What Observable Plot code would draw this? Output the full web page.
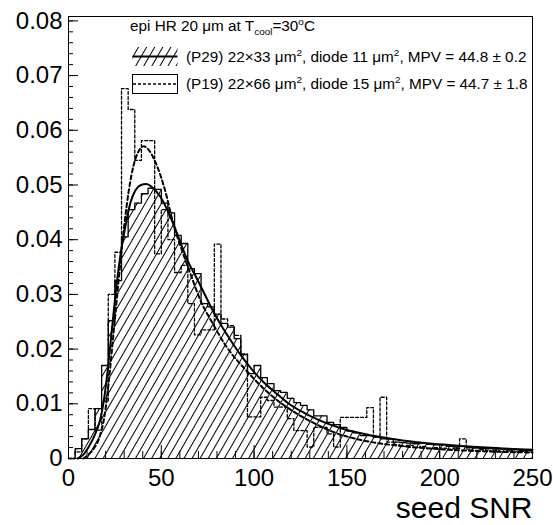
<!DOCTYPE html>
<html><head><meta charset="utf-8">
<script src="https://cdn.jsdelivr.net/npm/d3@7"></script>
<script src="https://cdn.jsdelivr.net/npm/@observablehq/plot@0.6"></script>
<style>
body{margin:0;background:#fff;}
#wrap{position:relative;width:553px;height:525px;font-family:"Liberation Sans",Arial,Helvetica,sans-serif;}
#wrap svg{display:block;}
.leg{position:absolute;font-size:15.3px;line-height:1;white-space:nowrap;color:#000;}
.leg sub,.leg sup{font-size:0.65em;line-height:0;}
</style></head><body><div id="wrap"></div>
<script>
// Histogram binning
const snrMin = 0, snrMax = 250, nBins = 70;
// (P29) 22x33 um^2 — normalised counts per bin
const p29 = [
  0, 0.0018, 0.0036, 0.0053, 0.0091, 0.0170, 0.0252, 0.0325, 0.0405, 0.0455,
  0.0467, 0.0484, 0.0494, 0.0492, 0.0467, 0.0449, 0.0408, 0.0393, 0.0347, 0.0338,
  0.0283, 0.0277, 0.0264, 0.0247, 0.0240, 0.0219, 0.0190, 0.0155, 0.0170, 0.0148,
  0.0137, 0.0124, 0.0121, 0.0110, 0.0102, 0.0097, 0.0089, 0.0078, 0.0078, 0.0066,
  0.0062, 0.0057, 0.0050, 0.0047, 0.0042, 0.0042, 0.0039, 0.0036, 0.0036, 0.0030,
  0.0029, 0.0028, 0.0027, 0.0028, 0.0026, 0.0025, 0.0025, 0.0022, 0.0021, 0.0022,
  0.0020, 0.0019, 0.0018, 0.0018, 0.0017, 0.0017, 0.0016, 0.0016, 0.0015, 0.0015
];
// (P19) 22x66 um^2
const p19 = [
  0, 0.0012, 0.0036, 0.0091, 0.0052, 0.0105, 0.0300, 0.0377, 0.0676, 0.0638,
  0.0545, 0.0581, 0.0581, 0.0374, 0.0455, 0.0400, 0.0340, 0.0353, 0.0283, 0.0226,
  0.0235, 0.0235, 0.0392, 0.0255, 0.0243, 0.0225, 0.0191, 0.0076, 0.0076, 0.0112,
  0.0106, 0.0094, 0.0094, 0.0073, 0.0051, 0.0051, 0.0021, 0.0057, 0.0057, 0.0045,
  0.0021, 0.0075, 0.0075, 0.0075, 0.0075, 0.0093, 0.0039, 0.0112, 0.0030, 0.0025,
  0.0022, 0.0024, 0.0020, 0.0022, 0.0018, 0.0020, 0.0019, 0.0017, 0.0018, 0.0036,
  0.0017, 0.0015, 0.0016, 0.0014, 0.0015, 0.0013, 0.0014, 0.0012, 0.0013, 0.0012
];
// Fit curves
const fit29X = [5, 8, 11, 14, 17, 19, 21.4, 23.5, 26, 28, 30.3, 33.4, 36, 39, 42, 45, 49.6, 55, 60, 64, 69, 73, 77, 82, 87, 93, 99, 105, 112, 118, 125, 135, 150, 165, 180, 200, 225, 250];
const fit29Y = [0, 0.0007, 0.0022, 0.0042, 0.0070, 0.0105, 0.0170, 0.0240, 0.0320, 0.0372, 0.0418, 0.0468, 0.0490, 0.0500, 0.0502, 0.0496, 0.0478, 0.0441, 0.0398, 0.0363, 0.0330, 0.0303, 0.0275, 0.0245, 0.0218, 0.0188, 0.0162, 0.0140, 0.0119, 0.0102, 0.0087, 0.0070, 0.0052, 0.0041, 0.0033, 0.0026, 0.0020, 0.0016];
const fit19X = [8, 11, 14, 17, 19.5, 22, 24, 26, 28, 30, 32.5, 35, 38, 40.5, 43, 46, 49.5, 53, 56, 61, 66, 71, 78, 85, 96, 107, 115, 125, 135, 143, 160, 179, 200, 225, 250];
const fit19Y = [0, 0.0008, 0.0020, 0.0042, 0.0080, 0.0150, 0.0220, 0.0290, 0.0360, 0.0425, 0.0490, 0.0535, 0.0563, 0.0571, 0.0565, 0.0548, 0.0518, 0.0478, 0.0435, 0.0382, 0.0335, 0.0290, 0.0245, 0.0205, 0.0160, 0.0122, 0.0100, 0.0078, 0.0060, 0.0048, 0.0032, 0.0023, 0.0017, 0.0013, 0.0011];
// Axes
const xTicks = [0, 50, 100, 150, 200, 250];
const xMinorTicks = d3.range(0, 251, 10);
const yTicks = [0, 0.01, 0.02, 0.03, 0.04, 0.05, 0.06, 0.07, 0.08];
const yMinorTicks = d3.range(0, 0.0805, 0.002);
const xLabel = "seed SNR";

const bw = (snrMax - snrMin) / nBins;
function stepData(vals) {
  const pts = vals.map((v, i) => ({x: snrMin + i * bw, y: v}));
  pts.push({x: snrMax, y: vals[vals.length - 1]});
  return pts;
}
const h29 = stepData(p29), h19 = stepData(p19);
const f29 = fit29X.map((x, i) => ({x, y: fit29Y[i]}));
const f19 = fit19X.map((x, i) => ({x, y: fit19Y[i]}));

const font = '"Liberation Sans", Arial, Helvetica, sans-serif';
const plot = Plot.plot({
  width: 553, height: 525,
  marginLeft: 68, marginRight: 21, marginTop: 16, marginBottom: 67,
  style: {fontFamily: font, background: "white", color: "black", overflow: "visible"},
  x: {domain: [0, 250]},
  y: {domain: [0, 0.0808]},
  marks: [
    Plot.areaY(h29, {x: "x", y: "y", curve: "step-after", fill: "url(#hatch)"}),
    Plot.lineY(h19, {x: "x", y: "y", curve: "step-after", stroke: "black", strokeWidth: 1.3, strokeDasharray: "3,2"}),
    Plot.lineY(h29, {x: "x", y: "y", curve: "step-after", stroke: "black", strokeWidth: 1.3}),
    Plot.line(f19, {x: "x", y: "y", curve: "monotone-x", stroke: "black", strokeWidth: 2, strokeDasharray: "4,3"}),
    Plot.line(f29, {x: "x", y: "y", curve: "monotone-x", stroke: "black", strokeWidth: 2}),
    Plot.frame({stroke: "black", strokeWidth: 1}),
    Plot.axisY(yMinorTicks, {tickSize: -5, tickFormat: () => "", label: null}),
    Plot.axisY(yTicks, {tickSize: -10, tickPadding: 16, fontSize: 24, label: null,
      tickFormat: d => d === 0 ? "0" : d3.format(".2f")(d)}),
    Plot.axisX(xMinorTicks, {tickSize: -7, tickFormat: () => "", label: null}),
    Plot.axisX(xTicks, {tickSize: -13, tickPadding: 23, fontSize: 24, label: null, tickFormat: d => String(d)}),
    Plot.text([xLabel], {frameAnchor: "bottom-right", textAnchor: "end", lineAnchor: "bottom", dy: 59, fontSize: 30, text: d => d})
  ]
});

const svg = d3.select(plot);
const defs = svg.insert("defs", ":first-child");
function addHatch(d, id) {
  const p = d.append("pattern").attr("id", id).attr("patternUnits", "userSpaceOnUse")
    .attr("width", 7).attr("height", 7).attr("patternTransform", "rotate(30)");
  p.append("line").attr("x1", 3.5).attr("y1", -1).attr("x2", 3.5).attr("y2", 8)
    .attr("stroke", "black").attr("stroke-width", 1);
}
addHatch(defs, "hatch");

const wrap = document.getElementById("wrap");
wrap.appendChild(plot);

// Legend overlay
const ov = d3.select(wrap).append("svg").attr("width", 553).attr("height", 525)
  .style("position", "absolute").style("left", 0).style("top", 0);
addHatch(ov.append("defs"), "hatch2");
ov.append("rect").attr("x", 132.5).attr("y", 47).attr("width", 45).attr("height", 19).attr("fill", "url(#hatch2)");
ov.append("line").attr("x1", 132.5).attr("x2", 177.5).attr("y1", 56.5).attr("y2", 56.5).attr("stroke", "black").attr("stroke-width", 2);
ov.append("rect").attr("x", 132.5).attr("y", 74.5).attr("width", 45).attr("height", 19).attr("fill", "white").attr("stroke", "black").attr("stroke-width", 1);
ov.append("line").attr("x1", 133).attr("x2", 177).attr("y1", 84).attr("y2", 84).attr("stroke", "black").attr("stroke-width", 1.3).attr("stroke-dasharray", "3,2");

const legendLines = [
  {html: "epi HR 20 &mu;m at T<sub>cool</sub>=30<sup>o</sup>C", left: 130, top: 18},
  {html: "(P29) 22&times;33 &mu;m<sup>2</sup>, diode 11 &mu;m<sup>2</sup>, MPV = 44.8 &plusmn; 0.2", left: 186, top: 49},
  {html: "(P19) 22&times;66 &mu;m<sup>2</sup>, diode 15 &mu;m<sup>2</sup>, MPV = 44.7 &plusmn; 1.8", left: 186, top: 76}
];
for (const l of legendLines) {
  const d = document.createElement("div");
  d.className = "leg";
  d.style.left = l.left + "px";
  d.style.top = l.top + "px";
  d.innerHTML = l.html;
  wrap.appendChild(d);
}
</script></body></html>
